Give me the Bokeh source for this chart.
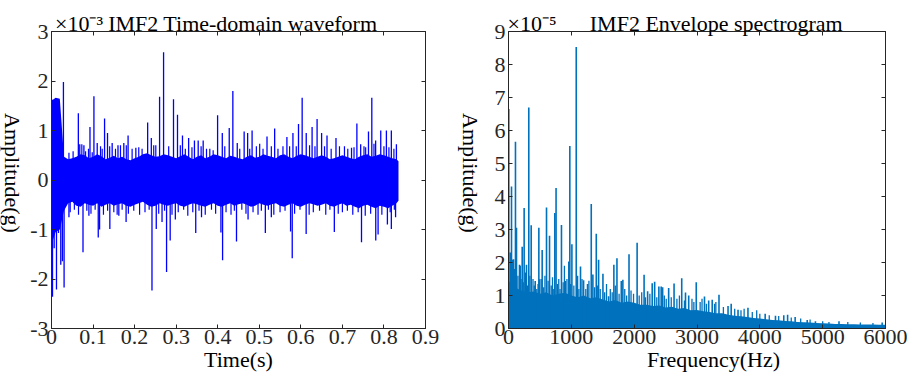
import numpy as np
from bokeh.plotting import figure
from bokeh.layouts import row
from bokeh.models import LinearAxis, FixedTicker, Range1d
from bokeh.core.properties import value
from bokeh.embed import file_html
from bokeh.resources import INLINE

FONT = "Liberation Serif"
AX = "#262626"
NB = "\u00a0"

# ---------------- IMF2 time-domain waveform (values in 1e-3 g) ----------------
wave_grid_t = [round(0.01 * i, 2) for i in range(84)] + [0.835]
wave_core_top = [1.60, 1.66, 1.64, 0.47, 0.42, 0.44, 0.47, 0.52, 0.50, 0.44,
                 0.47, 0.52, 0.48, 0.42, 0.45, 0.49, 0.44, 0.47, 0.42, 0.40,
                 0.44, 0.47, 0.52, 0.54, 0.50, 0.47, 0.48, 0.52, 0.50, 0.47,
                 0.44, 0.48, 0.52, 0.47, 0.42, 0.47, 0.50, 0.44, 0.47, 0.52,
                 0.50, 0.47, 0.44, 0.49, 0.47, 0.44, 0.42, 0.47, 0.50, 0.45,
                 0.47, 0.52, 0.49, 0.47, 0.44, 0.50, 0.52, 0.47, 0.44, 0.49,
                 0.52, 0.50, 0.47, 0.44, 0.47, 0.50, 0.47, 0.42, 0.44, 0.47,
                 0.50, 0.47, 0.44, 0.42, 0.47, 0.50, 0.52, 0.47, 0.49, 0.52,
                 0.50, 0.47, 0.44, 0.42, 0.38]
wave_core_bot = [-1.30, -1.05, -1.00, -0.62, -0.47, -0.44, -0.52, -0.54, -0.47, -0.50,
                 -0.52, -0.47, -0.54, -0.50, -0.47, -0.52, -0.49, -0.47, -0.52, -0.54,
                 -0.50, -0.47, -0.44, -0.50, -0.54, -0.52, -0.47, -0.50, -0.52, -0.49,
                 -0.47, -0.52, -0.54, -0.50, -0.47, -0.49, -0.52, -0.54, -0.50, -0.47,
                 -0.52, -0.54, -0.50, -0.47, -0.52, -0.49, -0.47, -0.50, -0.54, -0.52,
                 -0.47, -0.50, -0.52, -0.49, -0.47, -0.52, -0.54, -0.50, -0.47, -0.52,
                 -0.54, -0.50, -0.47, -0.49, -0.52, -0.50, -0.47, -0.52, -0.54, -0.50,
                 -0.47, -0.52, -0.50, -0.54, -0.57, -0.52, -0.50, -0.54, -0.57, -0.52,
                 -0.54, -0.57, -0.52, -0.47, -0.42]

# large peaks (positive then negative)
wave_spike_t = [0.0024, 0.0287, 0.0646, 0.0926, 0.1021, 0.1277, 0.1348, 0.1843, 0.2314,
                0.2402, 0.2601, 0.2697, 0.2936, 0.3032, 0.3152, 0.3997, 0.4277, 0.4364,
                0.4636, 0.4827, 0.5186, 0.5370, 0.5665, 0.5944, 0.6032, 0.6271, 0.6391,
                0.6630, 0.6846, 0.7349, 0.7628, 0.7708, 0.7923, 0.8059, 0.8178,
                0.068, 0.078, 0.110, 0.146, 0.160, 0.174, 0.203, 0.330, 0.344, 0.353,
                0.365, 0.411, 0.447, 0.472, 0.581, 0.613, 0.650, 0.722, 0.744, 0.780, 0.830,
                0.0024, 0.0064, 0.0120, 0.0168, 0.0223, 0.0263, 0.0303, 0.0758, 0.1125,
                0.1157, 0.1404, 0.1795, 0.2418, 0.2521, 0.2769, 0.2856, 0.3471, 0.4077,
                0.4117, 0.4452, 0.5146, 0.5753, 0.5793, 0.6128, 0.6806, 0.7460, 0.7803,
                0.7859, 0.8083, 0.8178,
                0.042, 0.090, 0.162, 0.266, 0.298, 0.361, 0.473, 0.529, 0.828]
wave_spike_v = [1.62, 1.98, 1.35, 1.07, 1.69, 1.24, 0.95, 0.90, 1.16,
                0.85, 1.68, 2.58, 1.63, 1.32, 0.90, 1.31, 1.05, 1.80,
                0.98, 1.00, 0.88, 1.04, 0.87, 1.13, 1.66, 1.07, 1.23,
                0.90, 0.85, 1.14, 0.98, 1.66, 1.00, 1.00, 1.00,
                0.72, 0.70, 0.75, 0.75, 0.70, 0.75, 0.65, 0.85, 0.80, 0.80,
                0.80, 0.95, 0.75, 0.95, 0.95, 0.95, 0.95, 0.65, 0.72, 0.80, 0.72,
                -2.36, -1.38, -2.21, -1.07, -1.71, -1.64, -2.17, -1.46, -1.16,
                -1.00, -0.99, -0.85, -2.23, -0.99, -1.86, -1.22, -1.07, -1.06,
                -1.62, -1.24, -1.07, -1.04, -1.58, -1.09, -1.05, -1.26, -1.22,
                -1.10, -0.90, -0.99,
                -0.75, -0.72, -0.72, -0.85, -0.80, -0.75, -0.80, -0.75, -0.75]

# small teeth of the dense core
wave_tooth_t = [0.042, 0.052, 0.073, 0.082, 0.089, 0.098, 0.118, 0.122, 0.140, 0.154,
                0.166, 0.180, 0.194, 0.210, 0.218, 0.246, 0.251, 0.282, 0.310, 0.322,
                0.338, 0.360, 0.373, 0.381, 0.389, 0.417, 0.453, 0.477, 0.493, 0.501,
                0.509, 0.529, 0.545, 0.557, 0.573, 0.589, 0.621, 0.634, 0.657, 0.673,
                0.693, 0.705, 0.713, 0.728, 0.752, 0.756, 0.776, 0.800, 0.812, 0.824,
                0.045, 0.055, 0.065, 0.085, 0.095, 0.105, 0.125, 0.135, 0.150, 0.158,
                0.170, 0.185, 0.198, 0.212, 0.225, 0.235, 0.258, 0.272, 0.290, 0.305,
                0.318, 0.328, 0.340, 0.355, 0.370, 0.385, 0.395, 0.420, 0.432, 0.440,
                0.458, 0.468, 0.485, 0.497, 0.505, 0.522, 0.535, 0.550, 0.562, 0.585,
                0.598, 0.620, 0.630, 0.645, 0.660, 0.670, 0.690, 0.700, 0.712, 0.725,
                0.738, 0.755, 0.768, 0.795, 0.815, 0.825]
wave_tooth_v = [0.55, 0.58, 0.72, 0.58, 0.63, 0.56, 0.68, 0.63, 0.68, 0.63,
                0.70, 0.70, 0.63, 0.66, 0.63, 0.70, 0.70, 0.68, 0.70, 0.63,
                0.66, 0.68, 0.63, 0.63, 0.60, 0.68, 0.63, 0.63, 0.68, 0.73,
                0.63, 0.68, 0.63, 0.68, 0.68, 0.68, 0.70, 0.68, 0.68, 0.63,
                0.68, 0.68, 0.63, 0.66, 0.68, 0.66, 0.73, 0.68, 0.66, 0.63,
                -0.65, -0.60, -0.70, -0.62, -0.68, -0.60, -0.70, -0.62, -0.65, -0.70,
                -0.60, -0.68, -0.62, -0.70, -0.65, -0.60, -0.68, -0.62, -0.70, -0.65,
                -0.60, -0.72, -0.65, -0.62, -0.70, -0.60, -0.68, -0.65, -0.70, -0.62,
                -0.60, -0.68, -0.65, -0.70, -0.62, -0.60, -0.70, -0.65, -0.62, -0.68,
                -0.60, -0.70, -0.65, -0.62, -0.70, -0.60, -0.68, -0.65, -0.62, -0.70,
                -0.65, -0.72, -0.68, -0.70, -0.65, -0.60]

wave_xticks = [0, 0.1, 0.2, 0.3, 0.4, 0.5, 0.6, 0.7, 0.8, 0.9]
wave_xlabels = ["0", "0.1", "0.2", "0.3", "0.4", "0.5", "0.6", "0.7", "0.8", "0.9"]
wave_yticks = [-3, -2, -1, 0, 1, 2, 3]
wave_ylabels = ["-3", "-2", "-1", "0", "1", "2", "3"]
wave_title = "IMF2 Time-domain waveform"
wave_scale = "×10⁻³"

# ---------------- IMF2 envelope spectrum (values in 1e-5 g) ----------------
spec_grid_f = [100 * i for i in range(61)]
spec_core_top = [1.45, 1.25, 1.15, 1.10, 1.12, 1.05, 1.10, 1.00, 1.05, 1.08,
                 1.00, 0.95, 1.00, 0.92, 0.95, 0.88, 0.82, 0.86, 0.78, 0.82,
                 0.78, 0.72, 0.72, 0.68, 0.70, 0.64, 0.66, 0.60, 0.62, 0.55,
                 0.56, 0.52, 0.50, 0.46, 0.46, 0.42, 0.39, 0.37, 0.35, 0.32,
                 0.30, 0.28, 0.26, 0.25, 0.23, 0.22, 0.20, 0.19, 0.18, 0.17,
                 0.16, 0.15, 0.14, 0.14, 0.13, 0.13, 0.12, 0.12, 0.12, 0.11, 0.11]
spec_spike_f = [5, 27, 48, 64, 80, 111, 127, 175, 186, 218, 249, 286, 323, 361, 425, 483,
                494, 536, 605, 653, 737, 757, 843, 903, 960, 976, 1009, 1078, 1146, 1195,
                1258, 1317, 1343, 1397, 1434, 1503, 1593, 1677, 1726, 1795, 1820, 1918,
                2047, 2158, 2214, 2287, 2326, 2393, 2430, 2453, 2549, 2635, 2757, 2817,
                2868, 2988, 3119, 3186, 3242, 3350, 3494, 3544, 3653, 3811, 4085, 4249,
                4381, 4442, 4562, 4754, 4885, 5260, 5947]
spec_spike_v = [6.65, 2.30, 4.30, 2.08, 2.10, 5.66, 3.05, 1.93, 1.90, 2.48, 3.65, 1.93, 6.70,
                3.13, 1.44, 3.05, 1.49, 2.38, 3.67, 2.81, 3.50, 4.26, 3.14, 1.44, 2.03, 5.53,
                2.55, 8.53, 1.88, 1.46, 1.35, 3.77, 1.64, 2.87, 2.08, 1.66, 0.98, 1.93, 2.13,
                1.44, 1.48, 2.25, 2.60, 1.63, 1.13, 1.37, 1.42, 1.27, 1.27, 1.25, 1.23, 1.36,
                1.52, 1.09, 1.00, 1.40, 0.97, 0.85, 0.87, 1.02, 0.68, 0.75, 0.57, 0.63, 0.45,
                0.39, 0.40, 0.42, 0.35, 0.26, 0.22, 0.22, 0.18]
spec_mid_f = [40, 95, 150, 200, 235, 270, 300, 340, 390, 410,
              450, 470, 520, 560, 580, 630, 680, 700, 720, 780,
              800, 820, 870, 890, 930, 990, 1040, 1100, 1120, 1170,
              1230, 1280, 1370, 1420, 1460, 1530, 1560, 1620, 1650, 1700,
              1760, 1850, 1880, 1950, 1990, 2080, 2120, 2180, 2250, 2360,
              2480, 2510, 2590, 2680, 2720, 2800, 2920, 2950, 3050, 3080,
              3150, 3280, 3300, 3420, 3600, 3700, 3750, 3880, 3950, 4000,
              4150, 4300, 4500, 4650, 4800, 5000, 5100, 5400, 5600, 5800]
spec_mid_v = [1.50, 1.80, 1.60, 1.50, 1.40, 1.70, 1.30, 1.60, 1.50, 1.30,
              1.20, 1.35, 1.50, 1.25, 1.60, 1.45, 1.30, 1.55, 1.20, 1.35,
              1.50, 1.20, 1.40, 1.90, 1.50, 1.35, 1.30, 1.60, 1.20, 1.50,
              1.20, 1.45, 1.25, 1.30, 1.20, 1.10, 1.35, 1.20, 1.10, 1.30,
              1.05, 1.20, 1.00, 1.15, 1.05, 1.00, 1.10, 0.95, 1.05, 0.95,
              1.00, 0.90, 0.95, 0.90, 1.00, 0.85, 0.90, 0.80, 0.80, 0.90,
              0.75, 0.75, 0.80, 0.65, 0.60, 0.55, 0.60, 0.50, 0.55, 0.45,
              0.40, 0.38, 0.33, 0.30, 0.27, 0.22, 0.20, 0.20, 0.18, 0.17]

spec_xticks = [0, 1000, 2000, 3000, 4000, 5000, 6000]
spec_xlabels = ["0", "1000", "2000", "3000", "4000", "5000", "6000"]
spec_yticks = [0, 1, 2, 3, 4, 5, 6, 7, 8, 9]
spec_ylabels = ["0", "1", "2", "3", "4", "5", "6", "7", "8", "9"]
spec_title = "IMF2 Envelope spectrogram"
spec_scale = "×10⁻⁵"

ylabel_text = "Amplitude(g)"


def make_fig(width, left, right, xr, yr, xticks, xlabels, yticks, ylabels,
             xlabel, top_labels):
    p = figure(width=width, height=379, x_range=Range1d(*xr), y_range=Range1d(*yr),
               output_backend="svg", toolbar_location=None,
               min_border_left=left, min_border_right=right,
               min_border_top=31, min_border_bottom=51)
    p.xgrid.visible = False
    p.ygrid.visible = False
    p.outline_line_color = AX
    p.outline_line_width = 1
    for ax, ticks, labels in ((p.xaxis[0], xticks, xlabels), (p.yaxis[0], yticks, ylabels)):
        ax.ticker = FixedTicker(ticks=ticks)
        ax.major_label_overrides = dict(zip(ticks, labels))
        ax.major_tick_in = 4
        ax.major_tick_out = 0
        ax.minor_tick_line_color = None
        ax.axis_line_color = AX
        ax.major_tick_line_color = AX
        ax.major_label_text_font = FONT
        ax.major_label_text_font_size = "22px"
        ax.major_label_text_color = AX
        ax.major_label_standoff = 3
    p.xaxis[0].major_label_standoff = 1
    p.xaxis[0].axis_label = xlabel
    p.xaxis[0].axis_label_standoff = 0
    p.xaxis[0].axis_label_text_font = FONT
    p.xaxis[0].axis_label_text_font_size = "22px"
    p.xaxis[0].axis_label_text_font_style = "normal"
    p.xaxis[0].axis_label_text_color = "black"

    top = LinearAxis(ticker=FixedTicker(ticks=xticks), major_tick_in=4, major_tick_out=0,
                     minor_tick_line_color=None, axis_line_color=AX,
                     major_tick_line_color=AX, major_label_overrides=top_labels,
                     major_label_standoff=-4, major_label_text_font=FONT,
                     major_label_text_font_size="22px", major_label_text_color="black")
    p.add_layout(top, "above")
    rgt = LinearAxis(ticker=FixedTicker(ticks=yticks), major_tick_in=4, major_tick_out=0,
                     minor_tick_line_color=None, axis_line_color=AX,
                     major_tick_line_color=AX,
                     major_label_overrides={t: "" for t in yticks},
                     major_label_standoff=0)
    p.add_layout(rgt, "right")
    return p


def ylabel_strip(width, xc):
    s = figure(width=width, height=379, x_range=Range1d(0, width), y_range=Range1d(0, 379),
               output_backend="svg", toolbar_location=None,
               min_border_left=0, min_border_right=0, min_border_top=0, min_border_bottom=0)
    s.axis.visible = False
    s.xgrid.visible = False
    s.ygrid.visible = False
    s.outline_line_color = None
    s.text(x=[xc], y=[379 - 180.5], text=[ylabel_text], angle=-np.pi / 2,
           text_font=value(FONT), text_font_size="22px", text_color="black",
           text_align="center", text_baseline="middle")
    return s


# left panel
wave_top_labels = {t: "" for t in wave_xticks}
wave_top_labels[0] = NB * 5 + wave_scale
wave_top_labels[0.5] = wave_title + NB * 6
p1 = make_fig(428, 22, 30, (0, 0.9), (-3, 3), wave_xticks, wave_xlabels,
              wave_yticks, wave_ylabels, "Time(s)", wave_top_labels)
p1.varea(x=wave_grid_t, y1=wave_core_bot, y2=wave_core_top, fill_color="#0000FF")
p1.segment(x0=wave_tooth_t, y0=[0] * len(wave_tooth_t), x1=wave_tooth_t, y1=wave_tooth_v,
           line_color="#0000FF", line_width=1.2)
p1.segment(x0=wave_spike_t, y0=[0] * len(wave_spike_t), x1=wave_spike_t, y1=wave_spike_v,
           line_color="#0000FF", line_width=1.3)

# right panel
spec_top_labels = {t: "" for t in spec_xticks}
spec_top_labels[0] = NB * 4 + spec_scale
spec_top_labels[3000] = NB * 7 + spec_title
p2 = make_fig(427, 23, 27, (0, 6000), (0, 9), spec_xticks, spec_xlabels,
              spec_yticks, spec_ylabels, NB * 6 + "Frequency(Hz)", spec_top_labels)
p2.varea(x=spec_grid_f, y1=[0] * len(spec_grid_f), y2=spec_core_top, fill_color="#0072BD")
p2.segment(x0=spec_mid_f, y0=[0] * len(spec_mid_f), x1=spec_mid_f, y1=spec_mid_v,
           line_color="#0072BD", line_width=1.3)
p2.segment(x0=spec_spike_f, y0=[0] * len(spec_spike_f), x1=spec_spike_f, y1=spec_spike_v,
           line_color="#0072BD", line_width=1.6)

s1 = ylabel_strip(27, 12)
s2 = ylabel_strip(30, 15)

layout = row(s1, p1, s2, p2, spacing=0)
open("out.html", "w").write(file_html(layout, INLINE))
